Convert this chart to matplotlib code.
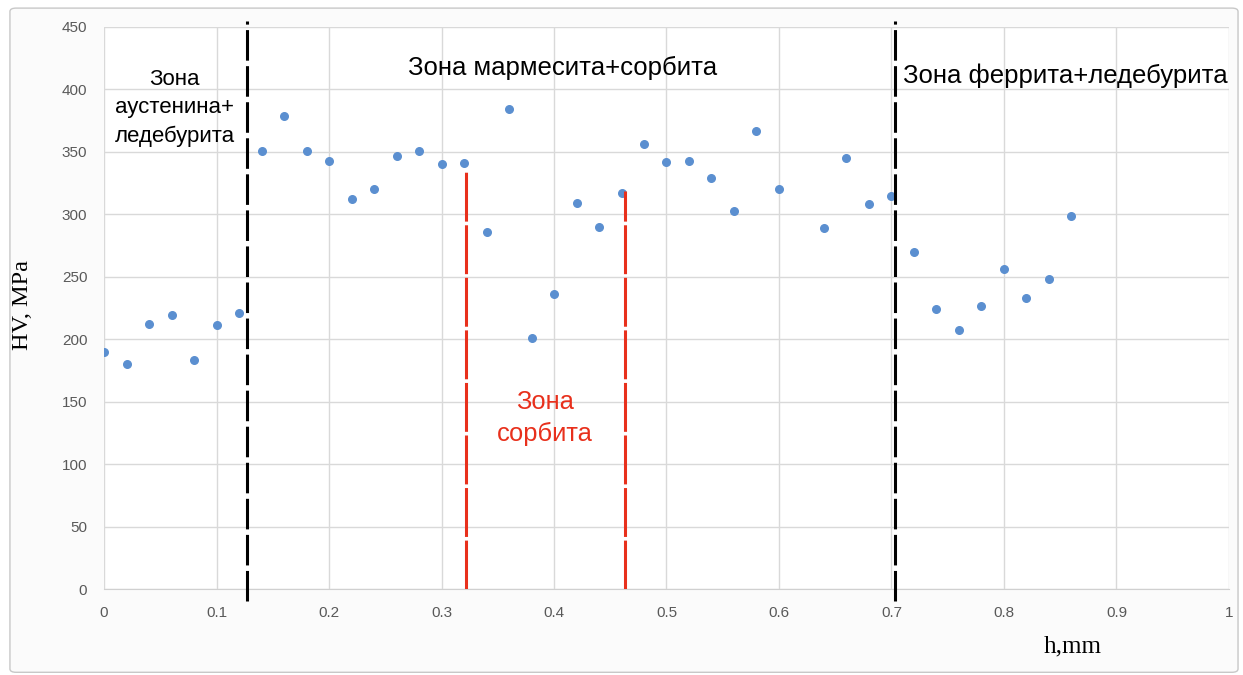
import matplotlib.pyplot as plt
from matplotlib.patches import FancyBboxPatch

# depth h (mm) and hardness HV
h = [0.00, 0.02, 0.04, 0.06, 0.08, 0.10, 0.12, 0.14, 0.16, 0.18,
     0.20, 0.22, 0.24, 0.26, 0.28, 0.30, 0.32, 0.34, 0.36, 0.38,
     0.40, 0.42, 0.44, 0.46, 0.48, 0.50, 0.52, 0.54, 0.56, 0.58,
     0.60, 0.64, 0.66, 0.68, 0.70, 0.72, 0.74, 0.76, 0.78, 0.80,
     0.82, 0.84, 0.86]
hv = [190, 180, 212, 219, 183, 211, 221, 351, 379, 351,
      343, 312, 320, 347, 351, 340, 341, 286, 384, 201,
      236, 309, 290, 317, 356, 342, 343, 329, 303, 367,
      320, 289, 345, 308, 315, 270, 224, 207, 227, 256,
      233, 248, 299]

# zone borders
black_x = [0.127, 0.703]
red_x = [0.322, 0.463]
red_top = [334, 319]

plt.rcParams['font.family'] = ['Liberation Sans', 'DejaVu Sans']

fig = plt.figure(figsize=(12.43, 6.75), dpi=100)
fig.patch.set_facecolor('white')
frame = FancyBboxPatch((0.008, 0.004), 0.988, 0.984, boxstyle='round,pad=0,rounding_size=0.005',
                       transform=fig.transFigure, facecolor='#fbfbfb', edgecolor='#c8c8c8', lw=1,
                       zorder=-5)
fig.patches.append(frame)

ax = fig.add_axes([0.0837, 0.1274, 0.905, 0.8326])
ax.set_zorder(1)
ax.set_facecolor('white')
ax.set_xlim(0, 1)
ax.set_ylim(0, 450)
ax.set_xticks([i / 10 for i in range(11)])
ax.set_xticklabels(['0', '0.1', '0.2', '0.3', '0.4', '0.5', '0.6', '0.7', '0.8', '0.9', '1'])
ax.set_yticks(range(0, 451, 50))
ax.grid(True, color='#d9d9d9', lw=1)
ax.set_axisbelow(True)
for s in ['top', 'right', 'left']:
    ax.spines[s].set_visible(False)
ax.spines['bottom'].set_color('#d0d0d0')
ax.tick_params(length=0, labelsize=11, colors='#595959', pad=12)
ax.tick_params(axis='x', pad=12)

ax.scatter(h, hv, s=30, color='#5b8fd0', zorder=3)

for x in black_x:
    ax.plot([x, x], [-10, 455], color='black', lw=2.2, dashes=(10, 1.8), clip_on=False, zorder=4)
for x, top in zip(red_x, red_top):
    ax.plot([x, x], [0, top], color='#e8301c', lw=2.2, dashes=(16, 1.2), zorder=4)

ax.text(0.063, 385, 'Зона\nаустенина+\nледебурита', ha='center', va='center', fontsize=16,
        linespacing=1.45)
ax.text(0.408, 417, 'Зона мармесита+сорбита', ha='center', va='center', fontsize=18.5)
ax.text(0.710, 411, 'Зона феррита+ледебурита', ha='left', va='center', fontsize=18.5)
ax.text(0.392, 137, 'Зона\nсорбита', ha='center', va='center', fontsize=18.4, color='#e8301c',
        linespacing=1.4)

fig.text(0.018, 0.548, 'HV, MPa', rotation=90, ha='center', va='center', fontsize=17.5,
         family=['Liberation Serif', 'DejaVu Serif'])
fig.text(0.863, 0.043, 'h,mm', ha='center', va='center', fontsize=18,
         family=['Liberation Serif', 'DejaVu Serif'])

fig.savefig('out.png', dpi=100, facecolor=fig.get_facecolor())
